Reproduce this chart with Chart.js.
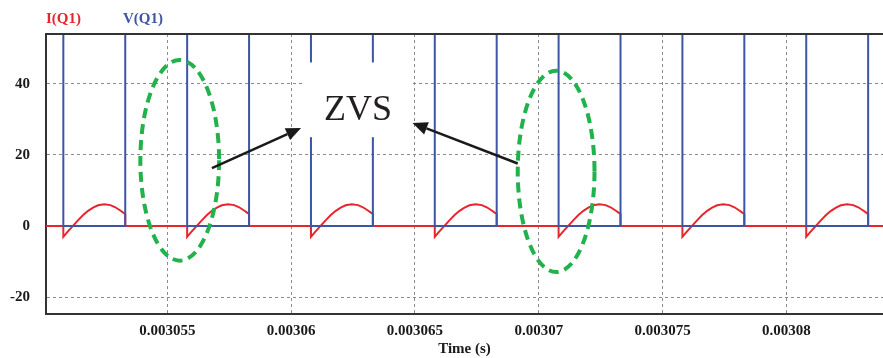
<!DOCTYPE html>
<html>
<head>
<meta charset="utf-8">
<script src="https://cdn.jsdelivr.net/npm/chart.js@4.4.0/dist/chart.umd.min.js"></script>
<style>
  html, body { margin: 0; padding: 0; background: #fff; }
</style>
</head>
<body>
<canvas id="chart" width="883" height="358"></canvas>
<script>
// axis limits and ticks (time in s)
const xMin = 0.0030501;
const xMax = 0.0030839;
const xTicks = [0.003055, 0.00306, 0.003065, 0.00307, 0.003075, 0.00308];
const xTickLabels = ['0.003055', '0.00306', '0.003065', '0.00307', '0.003075', '0.00308'];
const yMin = -24.7;
const yMax = 54;
const yTicks = [-20, 0, 20, 40];
const yTickLabels = ['-20', '0', '20', '40'];

const turnOn = [0.0030508, 0.0030558, 0.0030608, 0.0030658, 0.0030708, 0.0030758, 0.0030808];
const turnOff = [0.0030533, 0.0030583, 0.0030633, 0.0030683, 0.0030733, 0.0030783, 0.0030833];
const vOff = 100; // blocking voltage, above the visible range

// one conduction pulse of I(Q1): time after turn-on (us) and current (A)
const pulseT = [0, 0.16, 0.38, 0.6, 0.8, 1.0, 1.2, 1.4, 1.65, 1.9, 2.1, 2.3, 2.42, 2.5];
const pulseI = [-3.0, -1.7, 0, 1.7, 3.1, 4.3, 5.2, 5.85, 6.15, 5.9, 5.3, 4.4, 3.8, 3.4];

const RED = '#e8252d';
const BLUE = '#3d55a5';
const GREEN = '#22b24c';

// build point lists for the two traces
const vData = [{ x: xMin, y: vOff }];
const iData = [{ x: xMin, y: 0 }];
turnOn.forEach((t, k) => {
    vData.push({ x: t, y: vOff }, { x: t, y: 0 }, { x: turnOff[k], y: 0 }, { x: turnOff[k], y: vOff });
    iData.push({ x: t, y: 0 });
    pulseT.forEach((dt, j) => iData.push({ x: t + dt * 1e-6, y: pulseI[j] }));
    iData.push({ x: turnOff[k], y: 0 });
});
vData.push({ x: xMax, y: vOff });
iData.push({ x: xMax, y: 0 });

const serif = '"Liberation Serif", "Times New Roman", serif';

// ZVS markings drawn on top of the traces
const zvsNotes = {
    id: 'zvsNotes',
    afterDatasetsDraw(chart) {
        const { ctx, chartArea, scales: { x, y } } = chart;
        const px = t => x.getPixelForValue(t);
        const py = v => y.getPixelForValue(v);
        ctx.save();

        // top frame line
        ctx.strokeStyle = '#333';
        ctx.lineWidth = 2;
        ctx.beginPath();
        ctx.moveTo(chartArea.left, chartArea.top);
        ctx.lineTo(chartArea.right, chartArea.top);
        ctx.stroke();

        // label box
        const bx1 = px(0.0030605), bx2 = px(0.0030649);
        const by1 = py(46), by2 = py(25);
        ctx.fillStyle = '#fff';
        ctx.fillRect(bx1, by1, bx2 - bx1, by2 - by1);
        ctx.fillStyle = '#231f20';
        ctx.font = '36px ' + serif;
        ctx.textAlign = 'center';
        ctx.textBaseline = 'alphabetic';
        ctx.fillText('ZVS', (bx1 + bx2) / 2, py(29.7));

        // dashed ellipses
        ctx.strokeStyle = GREEN;
        ctx.lineWidth = 4;
        ctx.setLineDash([10, 6]);
        [{ t: 0.0030555, v: 18.5, dt: 1.59e-6, dv: 28.2 },
         { t: 0.0030707, v: 15.4, dt: 1.55e-6, dv: 28.3 }].forEach(e => {
            const cx = px(e.t), cy = py(e.v);
            ctx.beginPath();
            ctx.ellipse(cx, cy, px(e.t + e.dt) - cx, cy - py(e.v + e.dv), 0, 0, Math.PI * 2);
            ctx.stroke();
        });
        ctx.setLineDash([]);

        // arrows
        ctx.strokeStyle = '#1a1a1a';
        ctx.fillStyle = '#1a1a1a';
        ctx.lineWidth = 2.5;
        [{ t0: 0.0030568, v0: 16.3, t1: 0.0030604, v1: 27.6 },
         { t0: 0.00306915, v0: 17.6, t1: 0.0030649, v1: 29.0 }].forEach(a => {
            const x0 = px(a.t0), y0 = py(a.v0), x1 = px(a.t1), y1 = py(a.v1);
            const ang = Math.atan2(y1 - y0, x1 - x0);
            const len = 15, half = 6.5;
            const bxp = x1 - len * Math.cos(ang), byp = y1 - len * Math.sin(ang);
            ctx.beginPath();
            ctx.moveTo(x0, y0);
            ctx.lineTo(bxp, byp);
            ctx.stroke();
            ctx.beginPath();
            ctx.moveTo(x1, y1);
            ctx.lineTo(bxp + half * Math.sin(ang), byp - half * Math.cos(ang));
            ctx.lineTo(bxp - half * Math.sin(ang), byp + half * Math.cos(ang));
            ctx.closePath();
            ctx.fill();
        });
        ctx.restore();
    },
    afterDraw(chart) {
        // trace names above the plot
        const { ctx, chartArea } = chart;
        ctx.save();
        ctx.font = 'bold 15px ' + serif;
        ctx.textAlign = 'left';
        ctx.textBaseline = 'alphabetic';
        const offsets = [0, 77];
        chart.data.datasets.forEach((ds, i) => {
            ctx.fillStyle = ds.borderColor;
            ctx.fillText(ds.label, chartArea.left + offsets[i], 22.5);
        });
        ctx.restore();
    }
};

new Chart(document.getElementById('chart'), {
    type: 'line',
    data: {
        datasets: [
            { label: 'I(Q1)', data: iData, borderColor: RED, borderWidth: 2, pointRadius: 0, tension: 0, order: 2 },
            { label: 'V(Q1)', data: vData, borderColor: BLUE, borderWidth: 2, pointRadius: 0, tension: 0, order: 1 }
        ]
    },
    options: {
        responsive: false,
        animation: false,
        devicePixelRatio: 1,
        layout: { padding: { top: 34, left: 0, right: 0, bottom: 0 } },
        plugins: { legend: { display: false }, tooltip: { enabled: false } },
        scales: {
            x: {
                type: 'linear',
                min: xMin,
                max: xMax,
                afterBuildTicks: s => { s.ticks = xTicks.map(v => ({ value: v })); },
                afterFit: s => { s.height = 44; },
                ticks: {
                    callback: (v, i) => xTickLabels[i],
                    font: { family: serif, size: 15, weight: 'bold' },
                    color: '#1a1a1a',
                    maxRotation: 0,
                    autoSkip: false,
                    padding: 8
                },
                grid: { color: '#8c8c8c', lineWidth: 1, drawTicks: false },
                border: { display: true, color: '#333', width: 2, dash: [3, 3] },
                title: {
                    display: true,
                    text: 'Time (s)',
                    font: { family: serif, size: 15, weight: 'bold' },
                    color: '#1a1a1a',
                    padding: { top: 0, bottom: 0 }
                }
            },
            y: {
                min: yMin,
                max: yMax,
                afterBuildTicks: s => { s.ticks = yTicks.map(v => ({ value: v })); },
                afterFit: s => { s.width = 46; },
                ticks: {
                    callback: (v, i) => yTickLabels[i],
                    font: { family: serif, size: 15, weight: 'bold' },
                    color: '#1a1a1a',
                    padding: 16
                },
                grid: { color: '#8c8c8c', lineWidth: 1, drawTicks: false },
                border: { display: true, color: '#333', width: 2, dash: [3, 3] }
            }
        }
    },
    plugins: [zvsNotes]
});
</script>
</body>
</html>
